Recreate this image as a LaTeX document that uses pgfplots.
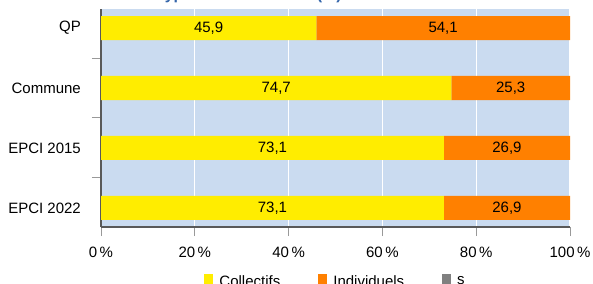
\documentclass[border=0pt]{standalone}
\usepackage{fontspec}
\setmainfont{Liberation Sans}
\usepackage{pgfplots}
\usepackage{pgfplotstable}
\pgfplotsset{compat=1.18}
\definecolor{cyel}{RGB}{255,237,0}
\definecolor{corg}{RGB}{255,128,0}
\definecolor{cgray}{RGB}{128,128,128}
\definecolor{bgblue}{RGB}{202,219,240}
\definecolor{titleblue}{RGB}{52,101,170}
\pgfplotsset{sqleg/.style={legend image code/.code={\fill[##1] (0bp,-2.2bp) rectangle (9.5bp,7.3bp);}}}
\pgfplotstableread{
y col ind lcol lind
3 45.9 54.1 45,9 54,1
2 74.7 25.3 74,7 25,3
1 73.1 26.9 73,1 26,9
0 73.1 26.9 73,1 26,9
}\datatab
\begin{document}
\begin{tikzpicture}
\begin{axis}[
  at={(101bp,57bp)}, anchor=south west,
  scale only axis, width=469bp, height=218bp,
  xbar stacked, bar width=24bp,
  xmin=0, xmax=100, ymin=-0.3167, ymax=3.3167,
  xtick={0,20,40,60,80,100},
  xticklabels={0\,\%,20\,\%,40\,\%,60\,\%,80\,\%,100\,\%},
  ytick={0.5,1.5,2.5}, yticklabels={},
  extra y ticks={0,1,2,3},
  extra y tick labels={EPCI 2022,EPCI 2015,Commune,QP},
  extra y tick style={tick style={draw=none}},
  axis x line*=bottom, axis y line*=left,
  axis line style={draw=black!65, line width=1.2bp},
  tick align=outside, major tick length=9bp,
  tick style={draw=black!40, line width=1bp},
  xmajorgrids, major grid style={draw=white, line width=1.2bp},
  axis background/.style={fill=bgblue},
  ticklabel style={font=\fontsize{15bp}{18bp}\selectfont, inner sep=0pt},
  xticklabel style={anchor=north, yshift=-10.5bp},
  yticklabel style={anchor=east, xshift=-11bp},
  point meta=explicit symbolic,
  nodes near coords,
  every node near coord/.append style={font=\fontsize{15bp}{18bp}\selectfont, text=black},
  legend columns=3,
  legend style={at={(0.2196,-0.2174)}, anchor=north west, draw=none, fill=none,
    inner sep=0pt, outer sep=0pt, font=\fontsize{15bp}{18bp}\selectfont,
    nodes={inner sep=0pt},
    /tikz/every odd column/.append style={column sep=6bp},
    /tikz/every even column/.append style={column sep=37.5bp}},
]
\addplot[fill=cyel, draw=none, sqleg]
  table[x=col, y=y, meta=lcol] {\datatab};
\addlegendentry{Collectifs}
\addplot[fill=corg, draw=none, sqleg]
  table[x=ind, y=y, meta=lind] {\datatab};
\addlegendentry{Individuels}
\addlegendimage{fill=cgray, draw=none, sqleg}
\addlegendentry{s}
\end{axis}
\node[anchor=base west, inner sep=0pt, text=titleblue,
  font=\fontsize{16bp}{19bp}\selectfont\bfseries] at (156bp,284.3bp)
  {Types de résidences (\%)};
\pgfresetboundingbox
\path[use as bounding box] (0,0) rectangle (593bp,284bp);
\end{tikzpicture}
\end{document}
